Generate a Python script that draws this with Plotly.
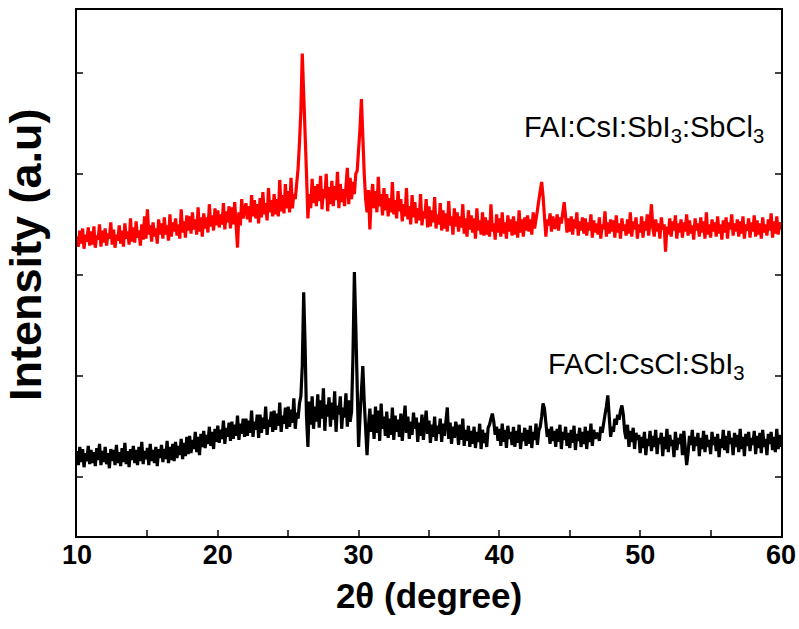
import numpy as np
import plotly.graph_objects as go

# 2-theta grid (degrees), 0.1 deg step
two_theta = np.round(np.arange(10.0, 60.05, 0.1), 1)

# FAI:CsI:SbI3:SbCl3 pattern (a.u., offset trace)
red_intensity = [
    238, 228, 244, 231, 246, 226, 240, 233, 247, 229,
    243, 230, 248, 227, 239, 235, 250, 228, 244, 232,
    246, 229, 241, 236, 252, 230, 245, 227, 240, 234,
    249, 231, 244, 228, 251, 236, 243, 230, 256, 233,
    247, 232, 253, 237, 244, 229, 250, 235, 258, 236,
    265, 240, 249, 233, 252, 238, 246, 231, 255, 240,
    251, 236, 257, 240, 249, 234, 260, 238, 252, 243,
    256, 239, 250, 236, 265, 242, 253, 237, 259, 244,
    258, 241, 262, 245, 255, 240, 267, 243, 257, 238,
    261, 246, 257, 242, 270, 248, 259, 244, 266, 249,
    264, 247, 260, 250, 271, 245, 263, 252, 268, 246,
    267, 250, 272, 254, 227, 262, 249, 275, 256, 264,
    271, 255, 268, 252, 279, 258, 274, 256, 270, 251,
    276, 257, 282, 260, 271, 254, 286, 262, 274, 258,
    280, 260, 275, 258, 294, 263, 279, 261, 290, 266,
    283, 262, 296, 266, 280, 275, 290, 305, 330, 362,
    419, 370, 330, 300, 256, 280, 266, 295, 271, 288,
    268, 290, 273, 298, 265, 285, 276, 300, 263, 287,
    270, 293, 268, 288, 274, 302, 266, 290, 272, 285,
    268, 289, 306, 270, 296, 275, 292, 280, 300, 303,
    320, 345, 374, 326, 300, 275, 262, 284, 245, 276,
    290, 266, 283, 262, 297, 268, 280, 259, 286, 264,
    280, 258, 276, 262, 292, 260, 274, 256, 283, 263,
    275, 253, 270, 258, 286, 255, 268, 250, 279, 257,
    272, 251, 266, 254, 280, 249, 263, 256, 275, 247,
    268, 248, 264, 252, 277, 246, 260, 250, 271, 244,
    264, 246, 261, 243, 273, 249, 258, 240, 266, 248,
    262, 243, 258, 247, 270, 241, 256, 238, 264, 245,
    259, 242, 256, 236, 266, 244, 254, 240, 262, 239,
    257, 240, 254, 238, 270, 243, 251, 235, 260, 242,
    256, 238, 262, 241, 252, 236, 259, 243, 255, 239,
    258, 240, 253, 237, 264, 242, 255, 238, 257, 244,
    259, 243, 255, 240, 262, 246, 258, 264, 274, 284,
    292, 278, 262, 238, 255, 249, 261, 243, 258, 246,
    248, 260, 244, 257, 251, 264, 272, 258, 242, 256,
    243, 258, 240, 255, 246, 262, 239, 253, 244, 257,
    241, 256, 239, 252, 244, 260, 237, 254, 242, 251,
    240, 257, 236, 250, 245, 263, 238, 252, 241, 255,
    243, 254, 237, 259, 242, 251, 236, 256, 244, 250,
    239, 255, 241, 262, 238, 253, 245, 257, 236, 250,
    242, 258, 237, 253, 244, 260, 239, 252, 270, 246,
    238, 255, 243, 251, 236, 257, 245, 250, 223, 248,
    240, 256, 238, 253, 244, 259, 236, 251, 242, 255,
    237, 252, 243, 260, 239, 254, 241, 249, 235, 256,
    244, 251, 238, 257, 242, 253, 236, 262, 240, 250,
    237, 255, 243, 252, 238, 258, 241, 250, 235, 254,
    242, 257, 236, 252, 245, 260, 239, 251, 243, 255,
    238, 253, 241, 258, 236, 250, 244, 256, 237, 252,
    243, 259, 238, 254, 240, 251, 236, 257, 242, 250,
    239, 255, 244, 261, 237, 253, 241, 258, 240, 252,
    245,
]

# FACl:CsCl:SbI3 pattern (a.u.)
black_intensity = [
    26, 12, 30, 15, 28, 10, 24, 16, 31, 13,
    27, 14, 25, 11, 29, 17, 33, 12, 26, 15,
    30, 13, 24, 9, 28, 16, 27, 12, 32, 14,
    25, 11, 29, 15, 34, 13, 26, 10, 28, 17,
    31, 14, 27, 12, 30, 16, 35, 13, 26, 18,
    29, 12, 33, 16, 27, 14, 30, 11, 28, 19,
    32, 15, 28, 18, 36, 14, 30, 17, 33, 16,
    35, 19, 31, 22, 38, 18, 34, 21, 40, 23,
    41, 24, 37, 28, 45, 25, 40, 22, 43, 30,
    46, 29, 42, 33, 50, 31, 45, 28, 48, 35,
    51, 34, 47, 38, 56, 33, 49, 40, 54, 36,
    55, 38, 52, 41, 61, 37, 53, 43, 58, 40,
    58, 41, 56, 44, 66, 40, 55, 47, 62, 39,
    62, 44, 59, 48, 70, 42, 57, 50, 65, 45,
    66, 47, 63, 51, 74, 45, 61, 53, 69, 48,
    70, 50, 67, 54, 78, 48, 64, 58, 73, 80,
    110, 183, 130, 60, 30, 75, 52, 80, 48, 70,
    55, 82, 49, 76, 58, 88, 46, 72, 60, 79,
    50, 74, 57, 85, 45, 71, 62, 80, 48, 69,
    59, 83, 50, 76, 55, 65, 120, 203, 150, 70,
    30, 60, 85, 110, 75, 40, 22, 50, 68, 45,
    62, 38, 70, 44, 66, 36, 73, 48, 60, 41,
    65, 39, 58, 42, 69, 37, 61, 45, 57, 40,
    63, 36, 56, 71, 44, 60, 38, 55, 42, 64,
    48, 59, 35, 54, 41, 62, 37, 53, 66, 43,
    56, 34, 52, 40, 60, 36, 51, 43, 58, 35,
    53, 41, 57, 69, 38, 54, 33, 50, 39, 55,
    48, 32, 52, 37, 58, 31, 47, 36, 51, 30,
    46, 33, 50, 29, 45, 35, 53, 28, 47, 34,
    44, 30, 49, 52, 58, 63, 55, 42, 50, 36,
    48, 31, 53, 35, 47, 29, 51, 38, 45, 32,
    50, 30, 46, 34, 52, 28, 44, 36, 49, 31,
    47, 33, 51, 29, 45, 37, 53, 32, 46, 50,
    60, 73, 68, 55, 40, 48, 33, 50, 36, 46,
    30, 48, 35, 52, 28, 45, 37, 50, 31, 44,
    29, 47, 34, 51, 27, 43, 36, 49, 30, 45,
    33, 50, 28, 46, 35, 53, 31, 47, 38, 44,
    42, 36, 50, 44, 55, 62, 70, 81, 60, 40,
    50, 45, 58, 52, 62, 57, 66, 71, 62, 45,
    38, 52, 30, 46, 35, 49, 28, 44, 37, 42,
    24, 40, 29, 45, 22, 38, 31, 46, 26, 41,
    30, 47, 23, 39, 33, 44, 21, 40, 28, 48,
    25, 42, 31, 37, 20, 45, 27, 39, 33, 43,
    22, 46, 29, 12, 24, 41, 32, 47, 26, 40,
    31, 44, 21, 39, 28, 46, 25, 42, 30, 37,
    23, 45, 32, 40, 26, 43, 20, 38, 29, 47,
    27, 41, 24, 46, 33, 39, 22, 44, 30, 42,
    25, 48, 28, 40, 21, 43, 31, 45, 26, 39,
    32, 46, 23, 41, 29, 44, 24, 47, 30, 38,
    22, 43, 33, 45, 27, 40, 25, 48, 28, 42,
    30,
]

x_ticks = [10, 20, 30, 40, 50, 60]
labels = ["FAI:CsI:SbI<sub>3</sub>:SbCl<sub>3</sub>", "FACl:CsCl:SbI<sub>3</sub>"]
label_pos = [(41.6, 344), (43.3, 110)]

fig = go.Figure()
fig.add_trace(go.Scatter(x=two_theta, y=black_intensity, mode="lines",
                         line=dict(color="#000000", width=3.2), showlegend=False))
fig.add_trace(go.Scatter(x=two_theta, y=red_intensity, mode="lines",
                         line=dict(color="#ff0000", width=3.2), showlegend=False))

for txt, (lx, ly) in zip(labels, label_pos):
    fig.add_annotation(x=lx, y=ly, text=txt, showarrow=False, xanchor="left",
                       yanchor="middle",
                       font=dict(family="Arial, Liberation Sans", size=29, color="#000000"))

# y-axis title as a rotated annotation (placed slightly above plot centre as in the original)
fig.add_annotation(x=0, y=0.535, xref="paper", yref="paper", xanchor="right",
                   yanchor="middle", xshift=-24, textangle=-90, showarrow=False,
                   text="<b>Intensity (a.u)</b>",
                   font=dict(family="Arial, Liberation Sans", size=45, color="#000000"))

fig.update_layout(
    width=799, height=629,
    margin=dict(l=77, r=18, t=10, b=93),
    plot_bgcolor="white", paper_bgcolor="white",
    font=dict(family="Arial, Liberation Sans", color="#000000"),
)
fig.update_xaxes(
    range=[10, 60], tickvals=x_ticks, ticks="inside", ticklen=6, tickwidth=1.5,
    showline=True, linecolor="black", linewidth=2, mirror=True, showgrid=False,
    zeroline=False, automargin=False, ticklabelstandoff=-6,
    minor=dict(ticks="inside", dtick=5, tick0=10, ticklen=6, tickwidth=1.5, showgrid=False),
    tickfont=dict(family="Arial, Liberation Sans", size=27, color="black", weight="bold"),
    title=dict(text="2θ (degree)", standoff=14,
               font=dict(family="Arial, Liberation Sans", size=35, color="black", weight="bold")),
)
fig.update_yaxes(
    range=[-58, 462], tick0=0, dtick=100, ticks="inside", ticklen=6, tickwidth=1.5,
    showticklabels=False, showline=True, linecolor="black", linewidth=2,
    mirror="ticks", showgrid=False, zeroline=False, automargin=False,
)

fig.write_html("out.html", post_script="document.body.style.margin='0px';",
               config={"displayModeBar": False})
